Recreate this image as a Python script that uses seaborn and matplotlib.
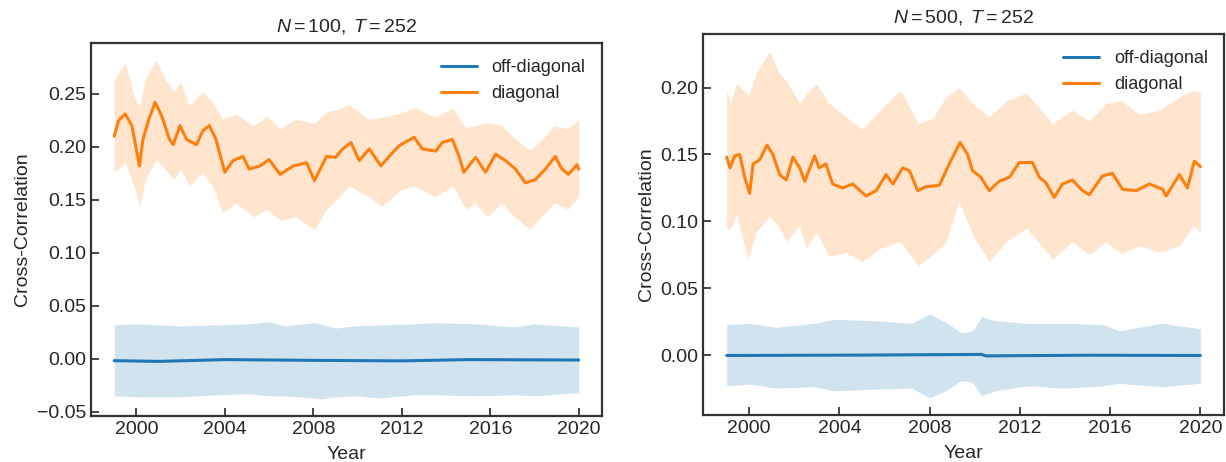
import numpy as np
import pandas as pd
import seaborn as sns
import matplotlib
matplotlib.use("Agg")
import matplotlib.pyplot as plt

# ---- left panel: N=100, T=252 ----
l_diag_year = [1999.0, 1999.2, 1999.5, 1999.8, 2000.14, 2000.3, 2000.55, 2000.85, 2001.15, 2001.5,
               2001.67, 2001.97, 2002.27, 2002.72, 2003.0, 2003.3, 2003.6, 2004.0, 2004.37, 2004.82,
               2005.1, 2005.6, 2006.0, 2006.5, 2007.1, 2007.7, 2008.05, 2008.6, 2009.0, 2009.33,
               2009.7, 2010.08, 2010.53, 2011.06, 2011.43, 2011.88, 2012.56, 2012.93, 2013.54, 2013.83,
               2014.28, 2014.59, 2014.8, 2015.34, 2015.79, 2016.24, 2016.69, 2017.14, 2017.59, 2018.04,
               2018.49, 2018.94, 2019.24, 2019.54, 2019.92, 2020.0]
l_diag_mean = [0.210, 0.225, 0.231, 0.220, 0.182, 0.207, 0.225, 0.242, 0.229, 0.207,
               0.202, 0.220, 0.207, 0.202, 0.215, 0.220, 0.207, 0.176, 0.187, 0.191,
               0.179, 0.182, 0.188, 0.174, 0.182, 0.185, 0.168, 0.191, 0.190, 0.198,
               0.204, 0.187, 0.198, 0.182, 0.191, 0.201, 0.209, 0.198, 0.196, 0.204,
               0.207, 0.191, 0.176, 0.190, 0.176, 0.193, 0.187, 0.179, 0.166, 0.169,
               0.179, 0.191, 0.179, 0.174, 0.183, 0.179]

l_diag_band_year = [1999.0, 1999.5, 1999.9, 2000.15, 2000.4, 2000.9, 2001.3, 2001.7, 2002.0, 2002.4,
                    2003.0, 2003.45, 2003.9, 2004.5, 2005.3, 2005.9, 2006.5, 2007.2, 2008.05, 2008.6,
                    2009.2, 2009.6, 2010.5, 2011.1, 2012.0, 2012.6, 2013.5, 2014.3, 2014.9, 2015.3,
                    2015.9, 2016.5, 2017.1, 2017.8, 2018.3, 2018.9, 2019.5, 2020.0]
l_diag_upper = [0.263, 0.279, 0.248, 0.236, 0.264, 0.282, 0.264, 0.252, 0.261, 0.239,
                0.252, 0.242, 0.226, 0.231, 0.220, 0.229, 0.217, 0.226, 0.222, 0.233,
                0.236, 0.240, 0.226, 0.228, 0.232, 0.237, 0.228, 0.236, 0.218, 0.220,
                0.223, 0.220, 0.208, 0.197, 0.206, 0.220, 0.217, 0.226]
l_diag_lower = [0.176, 0.185, 0.163, 0.144, 0.169, 0.188, 0.179, 0.169, 0.179, 0.163,
                0.176, 0.163, 0.138, 0.147, 0.134, 0.141, 0.131, 0.134, 0.122, 0.141,
                0.153, 0.163, 0.153, 0.144, 0.160, 0.163, 0.153, 0.163, 0.141, 0.147,
                0.134, 0.147, 0.134, 0.122, 0.134, 0.147, 0.141, 0.153]

l_off_year = [1999.0, 2001.0, 2004.0, 2008.0, 2012.0, 2015.0, 2020.0]
l_off_mean = [-0.0018, -0.0025, -0.0008, -0.0015, -0.0020, -0.0008, -0.0012]
l_off_band_year = [1999.0, 2000.1, 2001.9, 2003.7, 2005.0, 2006.0, 2006.7, 2008.0, 2008.3, 2009.0,
                   2009.9, 2011.0, 2012.6, 2013.5, 2015.3, 2017.1, 2018.0, 2020.0]
l_off_upper = [0.032, 0.033, 0.031, 0.032, 0.033, 0.035, 0.031, 0.034, 0.033, 0.029,
               0.031, 0.032, 0.033, 0.034, 0.033, 0.030, 0.033, 0.030]
l_off_lower = [-0.035, -0.036, -0.036, -0.034, -0.033, -0.035, -0.035, -0.037, -0.038, -0.036,
               -0.035, -0.037, -0.034, -0.034, -0.035, -0.034, -0.035, -0.032]

# ---- right panel: N=500, T=252 ----
r_diag_year = [1999.0, 1999.15, 1999.36, 1999.58, 1999.8, 2000.02, 2000.17, 2000.46, 2000.79, 2001.05,
               2001.35, 2001.64, 2001.94, 2002.24, 2002.46, 2002.9, 2003.1, 2003.4, 2003.7, 2004.14,
               2004.59, 2005.18, 2005.63, 2006.07, 2006.37, 2006.8, 2007.1, 2007.47, 2007.84, 2008.43,
               2008.87, 2009.35, 2009.68, 2009.9, 2010.27, 2010.64, 2011.08, 2011.53, 2011.97, 2012.56,
               2012.86, 2013.15, 2013.52, 2013.89, 2014.33, 2014.78, 2015.08, 2015.66, 2016.1, 2016.55,
               2017.15, 2017.74, 2018.33, 2018.48, 2019.07, 2019.43, 2019.73, 2020.0]
r_diag_mean = [0.148, 0.140, 0.149, 0.150, 0.133, 0.121, 0.143, 0.146, 0.157, 0.150,
               0.135, 0.131, 0.148, 0.140, 0.130, 0.149, 0.140, 0.143, 0.128, 0.125,
               0.128, 0.119, 0.123, 0.135, 0.128, 0.140, 0.138, 0.123, 0.126, 0.127,
               0.143, 0.159, 0.150, 0.138, 0.133, 0.123, 0.130, 0.133, 0.144, 0.144,
               0.133, 0.129, 0.118, 0.128, 0.131, 0.123, 0.120, 0.134, 0.136, 0.124,
               0.123, 0.128, 0.124, 0.119, 0.135, 0.125, 0.145, 0.141]

r_diag_band_year = [1999.0, 1999.15, 1999.45, 1999.95, 2000.3, 2000.9, 2001.35, 2001.64, 2002.24, 2002.53,
                    2002.97, 2003.56, 2004.3, 2005.0, 2005.8, 2006.7, 2007.5, 2008.13, 2008.73, 2009.3,
                    2009.9, 2010.64, 2011.4, 2012.3, 2013.45, 2014.33, 2015.08, 2015.8, 2016.5, 2017.3,
                    2018.2, 2019.07, 2019.7, 2020.0]
r_diag_upper = [0.199, 0.188, 0.203, 0.194, 0.210, 0.227, 0.210, 0.205, 0.188, 0.195,
                0.203, 0.188, 0.178, 0.169, 0.183, 0.198, 0.173, 0.177, 0.193, 0.200,
                0.188, 0.178, 0.190, 0.196, 0.173, 0.183, 0.175, 0.188, 0.190, 0.180,
                0.183, 0.193, 0.198, 0.196]
r_diag_lower = [0.095, 0.094, 0.105, 0.072, 0.092, 0.104, 0.095, 0.085, 0.097, 0.080,
                0.092, 0.074, 0.077, 0.070, 0.080, 0.085, 0.067, 0.075, 0.085, 0.115,
                0.090, 0.070, 0.085, 0.095, 0.072, 0.085, 0.075, 0.085, 0.076, 0.082,
                0.077, 0.082, 0.097, 0.092]

r_off_year = [1999.0, 2005.0, 2010.3, 2010.5, 2015.0, 2020.0]
r_off_mean = [0.0, 0.0003, 0.0008, -0.0003, 0.0002, 0.0]
r_off_band_year = [1999.0, 2000.0, 2001.2, 2002.9, 2003.75, 2005.5, 2007.2, 2008.0, 2008.7, 2009.4,
                   2009.9, 2010.3, 2010.9, 2012.3, 2014.0, 2015.7, 2016.4, 2018.3, 2020.0]
r_off_upper = [0.023, 0.024, 0.021, 0.024, 0.027, 0.026, 0.024, 0.031, 0.025, 0.017,
               0.0185, 0.029, 0.026, 0.024, 0.024, 0.023, 0.0185, 0.024, 0.020]
r_off_lower = [-0.0226, -0.0213, -0.0244, -0.0233, -0.0264, -0.0251, -0.0244, -0.0315, -0.0264, -0.0187,
               -0.020, -0.030, -0.0264, -0.0226, -0.0244, -0.0226, -0.0208, -0.0233, -0.0208]

titles = [r"$N = 100,\;T = 252$", r"$N = 500,\;T = 252$"]
xticks = [2000, 2004, 2008, 2012, 2016, 2020]

sns.set_style("ticks", {"xtick.direction": "in", "ytick.direction": "in",
                        "axes.edgecolor": ".2"})
plt.rcParams["font.family"] = ["Liberation Sans", "DejaVu Sans"]
plt.rcParams["mathtext.fontset"] = "custom"
plt.rcParams["mathtext.rm"] = "Liberation Sans"
plt.rcParams["mathtext.it"] = "Liberation Sans:italic"

blue, orange = sns.color_palette("tab10")[:2]

fig = plt.figure(figsize=(12.26, 4.62), dpi=100)
ax1 = fig.add_axes([0.0742, 0.0996, 0.4168, 0.8074])
ax2 = fig.add_axes([0.5734, 0.1017, 0.4250, 0.8247])

panels = [
    (ax1, l_off_year, l_off_mean, l_off_band_year, l_off_upper, l_off_lower,
     l_diag_year, l_diag_mean, l_diag_band_year, l_diag_upper, l_diag_lower),
    (ax2, r_off_year, r_off_mean, r_off_band_year, r_off_upper, r_off_lower,
     r_diag_year, r_diag_mean, r_diag_band_year, r_diag_upper, r_diag_lower),
]

for i, (ax, oy, om, oby, ou, ol, dy, dm, dby, du, dl) in enumerate(panels):
    off = pd.DataFrame({"Year": oy, "val": om})
    dia = pd.DataFrame({"Year": dy, "val": dm})
    ax.fill_between(oby, ol, ou, color=blue, alpha=0.2, linewidth=0)
    ax.fill_between(dby, dl, du, color=orange, alpha=0.2, linewidth=0)
    sns.lineplot(data=off, x="Year", y="val", ax=ax, color=blue, lw=2.2, label="off-diagonal")
    sns.lineplot(data=dia, x="Year", y="val", ax=ax, color=orange, lw=2.2, label="diagonal")
    ax.set_xticks(xticks)
    ax.set_xlabel("Year", fontsize=14, labelpad=6)
    ax.set_ylabel("Cross-Correlation", fontsize=14)
    ax.set_title(titles[i], fontsize=14, pad=8)
    ax.tick_params(labelsize=14, length=6, width=1.2)
    for s in ax.spines.values():
        s.set_linewidth(1.6)
    ax.legend(loc="upper right", frameon=False, fontsize=13)

fig.savefig("out.png", dpi=100)
